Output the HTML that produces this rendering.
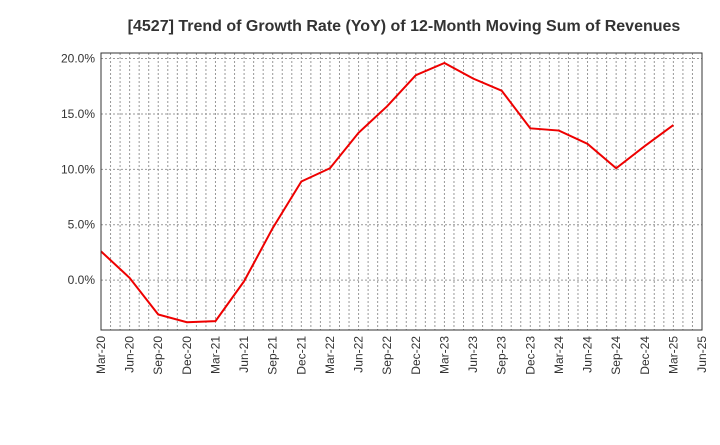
<!DOCTYPE html>
<html><head><meta charset="utf-8"><style>
body{margin:0;background:#fff;}
svg text{font-family:"Liberation Sans",sans-serif;}
</style></head><body>
<svg width="720" height="440" xmlns="http://www.w3.org/2000/svg">
<text x="404" y="31" text-anchor="middle" font-size="16" font-weight="bold" fill="#333">[4527]  Trend of Growth Rate (YoY) of 12-Month Moving Sum of Revenues</text>
<g id="grid"></g>
<g id="axes"></g>
<polyline id="line" fill="none" stroke="#ee0000" stroke-width="2"/>
<rect x="101" y="53" width="601" height="277" fill="none" stroke="#333" stroke-width="1"/>
</svg>
<script>
const categories=["Mar-20","Jun-20","Sep-20","Dec-20","Mar-21","Jun-21","Sep-21","Dec-21","Mar-22","Jun-22","Sep-22","Dec-22","Mar-23","Jun-23","Sep-23","Dec-23","Mar-24","Jun-24","Sep-24","Dec-24","Mar-25","Jun-25"];
const values=[2.6,0.2,-3.1,-3.8,-3.7,-0.1,4.7,8.9,10.1,13.3,15.7,18.5,19.6,18.2,17.1,13.7,13.5,12.3,10.1,12.1,14.0];
const yTicks=[0,5,10,15,20];
const yTickLabels=["0.0%","5.0%","10.0%","15.0%","20.0%"];
const L=101,R=702,T=53,B=330;
const yMin=-4.5,yMax=20.5;
const x=i=>L+(R-L)*i/(categories.length-1);
const y=v=>B-(v-yMin)/(yMax-yMin)*(B-T);
const ns="http://www.w3.org/2000/svg";
const grid=document.getElementById('grid'),axes=document.getElementById('axes');
function mk(tag,attrs,parent){const e=document.createElementNS(ns,tag);for(const k in attrs)e.setAttribute(k,attrs[k]);parent.appendChild(e);return e;}
const months=(categories.length-1)*3;
for(let m=1;m<months;m++){
  const xx=L+(R-L)*m/months;
  const g=mk('line',{x1:xx,x2:xx,y1:T,y2:B,stroke:'#999','stroke-dasharray':'2,2','stroke-width':1},grid);
  
  
}
yTicks.forEach((v,i)=>{
  const g=mk('line',{x1:L,x2:R,y1:y(v),y2:y(v),stroke:'#999','stroke-dasharray':'2,2','stroke-width':1},grid);
  
  
  const t=mk('text',{x:L-6,y:y(v)+4,'text-anchor':'end','font-size':12,fill:'#333'},axes);
  t.textContent=yTickLabels[i];
  
  
});
categories.forEach((c,i)=>{
  const xx=x(i)+4,yy=B+6;
  const t=mk('text',{x:xx,y:yy,'text-anchor':'end','font-size':12,fill:'#333',transform:`rotate(-90 ${xx} ${yy})`},axes);
  t.textContent=c;
  
  
});
document.getElementById('line').setAttribute('points',values.map((v,i)=>x(i)+','+y(v)).join(' '));
</script>
</body></html>
